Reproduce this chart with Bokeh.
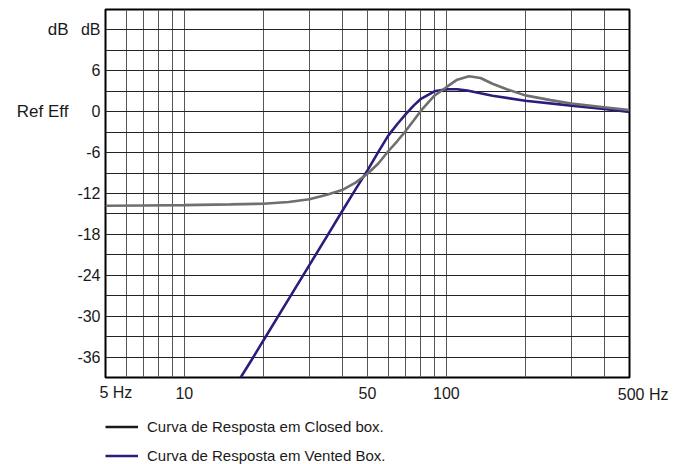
from bokeh.plotting import figure
from bokeh.layouts import column
from bokeh.models import (FixedTicker, Legend, LegendItem, ColumnDataSource, Range1d,
                          LinearAxis, LogAxis, Title)
from bokeh.embed import file_html
from bokeh.resources import INLINE

# ---- data ----
freq_closed = [5, 7, 10, 15, 20, 25, 30, 35, 40, 45, 50, 55, 60, 65, 70, 75, 80, 85, 90,
               100, 110, 122, 135, 150, 170, 200, 250, 300, 400, 500]
db_closed = [-13.8, -13.75, -13.7, -13.6, -13.5, -13.25, -12.85, -12.2, -11.5, -10.4, -9.1,
             -7.6, -5.8, -4.3, -2.8, -1.3, 0.15, 1.3, 2.35, 3.6, 4.7, 5.2, 4.95, 4.1, 3.3,
             2.4, 1.7, 1.2, 0.65, 0.25]

freq_vented = [16.4, 18, 20, 25, 30, 35, 40, 45, 50, 55, 60, 65, 70, 75, 80, 90, 100, 110,
               120, 135, 150, 200, 300, 400, 500]
db_vented = [-39.0, -36.5, -33.6, -27.5, -22.5, -18.3, -14.6, -11.4, -8.6, -5.9, -3.5, -1.8,
             -0.35, 0.9, 1.9, 3.0, 3.3, 3.3, 3.1, 2.7, 2.35, 1.6, 0.9, 0.4, -0.05]

x_label_ticks = [10, 50, 100]
x_tick_labels = ["10", "50", "100"]
x_start_tick = 5
x_start_label = "5 Hz"
x_end_label = "500 Hz"
x_grid_ticks = [5, 6, 7, 8, 9, 10, 20, 30, 40, 50, 60, 70, 80, 90, 100, 200, 300, 400, 500]

y_label_ticks = [-36, -30, -24, -18, -12, -6, 0, 6, 12]
y_tick_labels = ["-36", "-30", "-24", "-18", "-12", "-6", "0", "6", "dB"]
y_grid_ticks = [-39, -36, -33, -30, -27, -24, -21, -18, -15, -12, -9, -6, -3, 0, 3, 6, 9, 12, 15]

side_label_ticks = [12, 0]
side_labels = ["dB", "Ref Eff"]

legend_labels = ["Curva de Resposta em Closed box.", "Curva de Resposta em Vented Box."]
legend_colors = ["#1a1a1a", "#2b1d7e"]

FONT = "Liberation Sans"
TXT = "#1a1a1a"
Y_MIN, Y_MAX = -39, 15
X_MIN, X_MAX = 5, 500

# layout nudge: "5 Hz" starts at its tick (number centred on it), so the label's
# centre sits slightly right of the tick (factor on the log axis)
START_LABEL_NUDGE = 1.096

p = figure(width=686, height=404, x_axis_type="log",
           x_range=Range1d(X_MIN, X_MAX), y_range=Range1d(Y_MIN, Y_MAX),
           output_backend="svg", toolbar_location=None,
           min_border_left=105, min_border_right=57, min_border_top=9, min_border_bottom=27)
p.background_fill_color = "white"
p.border_fill_color = "white"
p.outline_line_color = "black"
p.outline_line_width = 2


def style_axis(ax, size, standoff):
    ax.axis_line_color = None
    ax.major_tick_line_color = None
    ax.minor_tick_line_color = None
    ax.major_tick_out = 0
    ax.major_tick_in = 0
    ax.minor_tick_out = 0
    ax.minor_tick_in = 0
    ax.major_label_text_font = FONT
    ax.major_label_text_font_size = size
    ax.major_label_text_color = TXT
    ax.major_label_standoff = standoff


# main axes
p.xaxis.ticker = FixedTicker(ticks=x_label_ticks)
p.xaxis.major_label_overrides = {t: s for t, s in zip(x_label_ticks, x_tick_labels)}
p.yaxis.ticker = FixedTicker(ticks=y_label_ticks)
p.yaxis.major_label_overrides = {t: s for t, s in zip(y_label_ticks, y_tick_labels)}
style_axis(p.xaxis[0], "16px", 9)
style_axis(p.yaxis[0], "16px", 5)

# outer left axis carrying "dB" / "Ref Eff"
side_axis = LinearAxis(ticker=FixedTicker(ticks=side_label_ticks),
                       major_label_overrides={t: s for t, s in zip(side_label_ticks, side_labels)})
style_axis(side_axis, "17px", 6)
p.add_layout(side_axis, "left")

# second bottom axis for the "5 Hz" label, pulled back up onto the first row
start_pos = x_start_tick * START_LABEL_NUDGE
end_axis = LogAxis(ticker=FixedTicker(ticks=[start_pos]),
                   major_label_overrides={start_pos: x_start_label})
style_axis(end_axis, "16px", -18)
p.add_layout(end_axis, "below")

# "500 Hz" at the right end of the axis row
end_title = Title(text=x_end_label, align="right", offset=-39, vertical_align="top",
                  standoff=-36, text_font=FONT, text_font_size="16px",
                  text_font_style="normal", text_color=TXT)
p.add_layout(end_title, "below")

# grid
p.xgrid.ticker = FixedTicker(ticks=x_grid_ticks)
p.ygrid.ticker = FixedTicker(ticks=y_grid_ticks)
p.xgrid.grid_line_color = "#555555"
p.xgrid.grid_line_width = 1
p.ygrid.grid_line_color = "#222222"
p.ygrid.grid_line_width = 1

# curves
src_v = ColumnDataSource(dict(f=freq_vented, db=db_vented))
src_c = ColumnDataSource(dict(f=freq_closed, db=db_closed))
r_v = p.line("f", "db", source=src_v, line_color="#2b1d7e", line_width=2.6)
r_c = p.line("f", "db", source=src_c, line_color="#6f6f6f", line_width=2.6)

# legend strip below the chart (hidden copies of the curves supply the swatches)
q = figure(width=686, height=60, output_backend="svg", toolbar_location=None,
           x_axis_location=None, y_axis_location=None, min_border=0)
q.outline_line_color = None
q.grid.visible = False
q.background_fill_color = "white"
q.border_fill_color = "white"
leg_r = [q.line("f", "db", source=s, line_color=c, line_width=2.6, visible=False)
         for s, c in zip([src_c, src_v], legend_colors)]
legend = Legend(items=[LegendItem(label=lab, renderers=[r]) for lab, r in zip(legend_labels, leg_r)],
                location=(0, 0), orientation="vertical",
                padding=0, margin=0, spacing=12,
                glyph_width=33, glyph_height=17, label_height=17, label_standoff=9,
                border_line_color=None, background_fill_alpha=0,
                label_text_font=FONT, label_text_font_size="15px", label_text_color=TXT)
q.add_layout(legend)

root = column(p, q, spacing=0)
open("out.html", "w").write(file_html(root, INLINE))
